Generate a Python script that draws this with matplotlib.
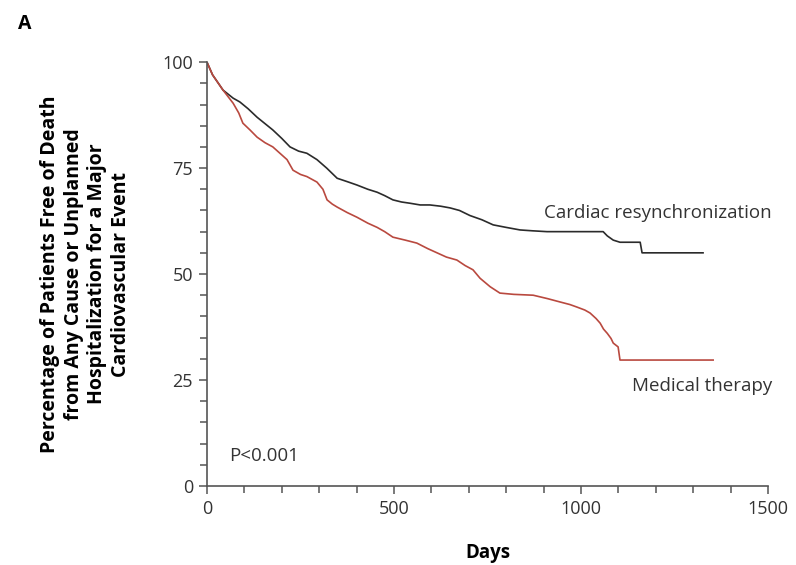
import matplotlib
matplotlib.use("Agg")
from matplotlib import pyplot as plt
from matplotlib.ticker import MultipleLocator

# Kaplan-Meier style curves (days, % event free)
crt_days = [0, 15, 43, 70, 88, 110, 134, 155, 176, 200, 222, 245, 267, 294, 320,
            348, 375, 401, 430, 455, 475, 497, 520, 543, 570, 596, 625, 650, 675,
            703, 735, 765, 800, 837, 870, 909, 1059, 1070, 1086, 1104, 1158, 1163, 1326]
crt_pct = [100, 97, 93.4, 91.5, 90.6, 89, 87, 85.5, 84, 82, 80, 79, 78.5, 77, 75,
           72.6, 71.8, 71, 70, 69.3, 68.5, 67.5, 67, 66.7, 66.3, 66.3, 66, 65.6, 65,
           63.8, 62.8, 61.6, 61, 60.4, 60.2, 60, 60, 59, 58, 57.5, 57.5, 55, 55]

med_days = [0, 15, 43, 70, 85, 96, 115, 134, 155, 176, 195, 214, 230, 250, 267,
            294, 310, 321, 335, 348, 375, 401, 430, 455, 475, 497, 530, 561, 590,
            615, 640, 668, 690, 711, 730, 757, 783, 820, 872, 910, 944, 970, 989,
            1010, 1024, 1040, 1051, 1060, 1070, 1080, 1086, 1099, 1104, 1353]
med_pct = [100, 97, 93.4, 90.3, 88, 85.6, 84, 82.3, 81, 80, 78.5, 77, 74.5, 73.5, 73,
           71.7, 70, 67.5, 66.5, 65.8, 64.5, 63.4, 62, 61, 60, 58.7, 58, 57.3, 56,
           55, 54, 53.3, 52, 51, 49, 47, 45.5, 45.2, 45, 44.2, 43.4, 42.8, 42.2,
           41.5, 40.8, 39.5, 38.4, 37, 36, 34.8, 33.7, 32.8, 29.7, 29.7]

x_ticks = [0, 500, 1000, 1500]
y_ticks = [0, 25, 50, 75, 100]

plt.rcParams["font.family"] = ["Open Sans", "DejaVu Sans"]

fig = plt.figure(figsize=(7.96, 5.65), dpi=100)
ax = fig.add_axes([0.260, 0.140, 0.705, 0.750])

ax.plot(crt_days, crt_pct, color="#2b2b2b", lw=1.2)
ax.plot(med_days, med_pct, color="#b9493f", lw=1.2)

ax.set_xlim(0, 1500)
ax.set_ylim(0, 100)
ax.set_xticks(x_ticks)
ax.set_yticks(y_ticks)
ax.xaxis.set_minor_locator(MultipleLocator(100))
ax.yaxis.set_minor_locator(MultipleLocator(5))
for s in ["top", "right"]:
    ax.spines[s].set_visible(False)
for s in ["left", "bottom"]:
    ax.spines[s].set_color("#555555")
    ax.spines[s].set_linewidth(1.2)
ax.tick_params(which="both", direction="out", color="#555555", width=1.1,
               labelsize=13, labelcolor="#333333")
ax.tick_params(which="major", length=6, pad=4)
ax.tick_params(which="minor", length=5)

ax.set_xlabel("Days", fontsize=13.5, fontweight="bold", labelpad=18)
ax.set_ylabel("Percentage of Patients Free of Death\nfrom Any Cause or Unplanned\n"
              "Hospitalization for a Major\nCardiovascular Event",
              fontsize=14, fontweight="bold", linespacing=1.25)
ax.yaxis.set_label_coords(-0.135, 0.5)

ax.text(1510, 64.5, "Cardiac resynchronization", fontsize=13.5, color="#333333",
        ha="right", va="center", clip_on=False)
ax.text(1510, 23.5, "Medical therapy", fontsize=13.5, color="#333333",
        ha="right", va="center", clip_on=False)
ax.text(58, 7, "P<0.001", fontsize=13.5, color="#333333", va="center")

fig.text(0.022, 0.958, "A", fontsize=14, fontweight="bold", va="center")

fig.savefig("out.png", dpi=100)
plt.close()
